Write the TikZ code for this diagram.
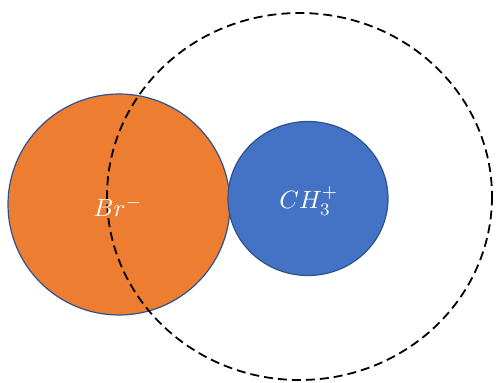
\documentclass[tikz,border=0pt]{standalone}
\usepackage{graphicx}
\begin{document}
\begin{tikzpicture}[x=1pt,y=-1pt,
  lbl/.style={text=white, inner sep=0pt}]
\useasboundingbox (0,0) rectangle (496,383);
\definecolor{orangeF}{HTML}{ED7D31}
\definecolor{blueF}{HTML}{4472C4}
\definecolor{blueB}{HTML}{2F528F}
\path[fill=orangeF, draw=blueB, line width=1.2pt] (119,204.5) ellipse [x radius=111, y radius=110.5];
\coordinate (brc) at (118,207);
\path[fill=blueF, draw=blueB, line width=1.2pt] (308,198.5) ellipse [x radius=80, y radius=77];
\coordinate (chc) at (309,201);
\draw[dash pattern=on 9pt off 5pt, line width=1.8pt] (299.5,196.5) ellipse [x radius=192.5, y radius=183.5];
\node[lbl] (br) at (brc) {\scalebox{2.5}{$Br^{-}$}};
\node[lbl] (ch) at (chc) {\scalebox{2.5}{$CH_3^{+}$}};
\end{tikzpicture}
\end{document}
